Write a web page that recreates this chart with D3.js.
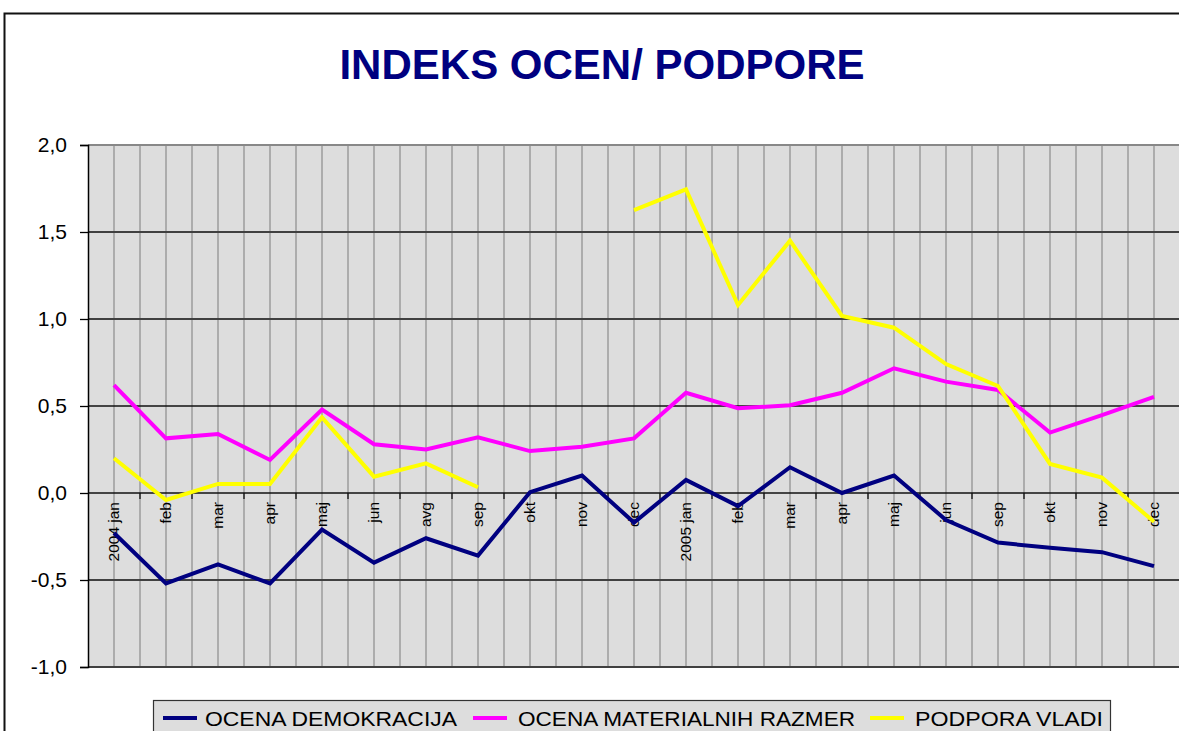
<!DOCTYPE html>
<html>
<head>
<meta charset="utf-8">
<script src="https://cdn.jsdelivr.net/npm/d3@7"></script>
<style>
    body { margin: 0; background: #fff; }
    svg { display: block; font-family: "Liberation Sans", Arial, sans-serif; }
</style>
</head>
<body>
<svg id="chart" width="1179" height="731"></svg>
<script>
/* ------------------------- DATA ------------------------- */

const months = ["2004 jan", "feb", "mar", "apr", "maj", "jun", "avg", "sep", "okt", "nov", "dec",
                "2005 jan", "feb", "mar", "apr", "maj", "jun", "sep", "okt", "nov", "dec"]

const ocenaDemokracija = [-0.23, -0.52, -0.41, -0.52, -0.21, -0.40, -0.26, -0.36, 0.005, 0.10, -0.17,
                          0.075, -0.075, 0.148, 0.0, 0.10, -0.155, -0.285, -0.315, -0.34, -0.42]

const ocenaMaterialnih = [0.62, 0.314, 0.339, 0.19, 0.48, 0.28, 0.25, 0.32, 0.241, 0.266, 0.314,
                          0.576, 0.487, 0.504, 0.576, 0.717, 0.64, 0.592, 0.347, 0.448, 0.553]

const podporaVladi = [0.20, -0.04, 0.052, 0.052, 0.435, 0.094, 0.17, 0.033, null, null, 1.626,
                      1.745, 1.08, 1.45, 1.018, 0.95, 0.741, 0.615, 0.167, 0.088, -0.165]

const yTicks = [-1, -0.5, 0, 0.5, 1, 1.5, 2]

const series = [
    { name: "OCENA DEMOKRACIJA", values: ocenaDemokracija, color: "#000080" },
    { name: "OCENA MATERIALNIH RAZMER", values: ocenaMaterialnih, color: "#ff00ff" },
    { name: "PODPORA VLADI", values: podporaVladi, color: "#ffff00" }
]

/* ------------------------- LAYOUT ------------------------- */

const svg = d3.select("#chart")
const plot = { left: 88, top: 145, bottom: 667, band: 52 }
plot.right = plot.left + plot.band * months.length

// cornice esterna del grafico (esce dall'immagine a destra e in basso)
svg.append("rect")
    .attr("x", 4.5).attr("y", 13.5)
    .attr("width", 1300).attr("height", 900)
    .attr("fill", "#fff").attr("stroke", "#111").attr("stroke-width", 2)

svg.append("text")
    .attr("x", 602).attr("y", 79)
    .attr("text-anchor", "middle")
    .attr("font-size", 42).attr("font-weight", "bold")
    .attr("fill", "#000080")
    .text("INDEKS OCEN/ PODPORE")

const x = d3.scaleBand()
    .domain(d3.range(months.length))
    .range([plot.left, plot.right])
    .padding(0)

const cx = i => x(i) + x.bandwidth() / 2

const y = d3.scaleLinear()
    .domain([-1, 2])
    .range([plot.bottom, plot.top])

/* --------------------- PLOT AREA --------------------- */

svg.append("defs").append("clipPath").attr("id", "plotClip")
    .append("rect")
    .attr("x", plot.left).attr("y", plot.top - 2)
    .attr("width", plot.right - plot.left).attr("height", plot.bottom - plot.top + 4)

svg.append("rect")
    .attr("x", plot.left).attr("y", plot.top)
    .attr("width", plot.right - plot.left).attr("height", plot.bottom - plot.top)
    .attr("fill", "#dddddd")

// griglia verticale: confini e centri delle categorie
let vLines = []
months.forEach((m, i) => { vLines.push(x(i)); vLines.push(cx(i)) })

svg.append("g")
    .attr("clip-path", "url(#plotClip)")
    .selectAll("line")
    .data(vLines.slice(1))
    .enter().append("line")
        .attr("x1", d => d).attr("x2", d => d)
        .attr("y1", plot.top).attr("y2", plot.bottom)
        .attr("stroke", "#a0a0a0").attr("stroke-width", 1.6)

// griglia orizzontale
svg.append("g")
    .selectAll("line")
    .data(yTicks)
    .enter().append("line")
        .attr("x1", plot.left).attr("x2", plot.right)
        .attr("y1", d => y(d)).attr("y2", d => y(d))
        .attr("stroke", d => d == 2 ? "#888" : (d == 0 || d == 0.5 ? "#111" : "#404040"))
        .attr("stroke-width", d => d == 0 || d == 0.5 ? 1.3 : 2)

/* --------------------- AXES --------------------- */

const yAxis = svg.append("g")
    .attr("transform", "translate(" + plot.left + ",0)")
    .call(d3.axisLeft(y)
        .tickValues(yTicks)
        .tickSize(8)
        .tickPadding(13)
        .tickFormat(d => d.toFixed(1).replace(".", ",")))

yAxis.select(".domain").attr("stroke", "#000").attr("stroke-width", 1.5)
yAxis.selectAll(".tick line").attr("stroke", "#000").attr("stroke-width", 1.3)
yAxis.selectAll(".tick text")
    .attr("font-size", 21)
    .attr("font-family", "Liberation Sans, Arial, sans-serif")
    .attr("fill", "#000")

// tacche dell'asse delle categorie sulla linea dello zero
svg.append("g")
    .selectAll("line")
    .data(d3.range(1, months.length + 1))
    .enter().append("line")
        .attr("x1", i => plot.left + i * x.bandwidth())
        .attr("x2", i => plot.left + i * x.bandwidth())
        .attr("y1", y(0)).attr("y2", y(0) + 6)
        .attr("stroke", "#111").attr("stroke-width", 1.3)

// etichette delle categorie, ruotate
svg.append("g")
    .selectAll("text")
    .data(months)
    .enter().append("text")
        .attr("transform", (d, i) => "translate(" + cx(i) + "," + (y(0) + 9) + ") rotate(-90)")
        .attr("text-anchor", "end")
        .attr("dy", "0.35em")
        .attr("font-size", 15.5)
        .attr("fill", "#000")
        .text(d => d)

/* --------------------- LINES --------------------- */

const line = d3.line()
    .defined(d => d != null)
    .x((d, i) => cx(i))
    .y(d => y(d))

svg.append("g")
    .selectAll("path")
    .data(series)
    .enter().append("path")
        .attr("d", d => line(d.values))
        .attr("fill", "none")
        .attr("stroke", d => d.color)
        .attr("stroke-width", 4)
        .attr("stroke-linejoin", "miter")

/* --------------------- LEGEND --------------------- */

const legend = svg.append("g")

legend.append("rect")
    .attr("x", 153.5).attr("y", 700.5)
    .attr("width", 957).attr("height", 60)
    .attr("fill", "#dddddd").attr("stroke", "#333").attr("stroke-width", 1.2)

const legendX = [163, 473, 870]
const legendTextWidth = [252, 337, 188]

const items = legend.selectAll("g.item")
    .data(series)
    .enter().append("g")
        .attr("class", "item")
        .attr("transform", (d, i) => "translate(" + legendX[i] + ",0)")

items.append("line")
    .attr("x1", 0).attr("x2", 34)
    .attr("y1", 718).attr("y2", 718)
    .attr("stroke", d => d.color).attr("stroke-width", 4)

items.append("text")
    .attr("x", (d, i) => i == 0 ? 42 : 45)
    .attr("y", 726)
    .attr("font-size", 21)
    .attr("textLength", (d, i) => legendTextWidth[i])
    .attr("lengthAdjust", "spacingAndGlyphs")
    .attr("fill", "#000")
    .text(d => d.name)
</script>
</body>
</html>
